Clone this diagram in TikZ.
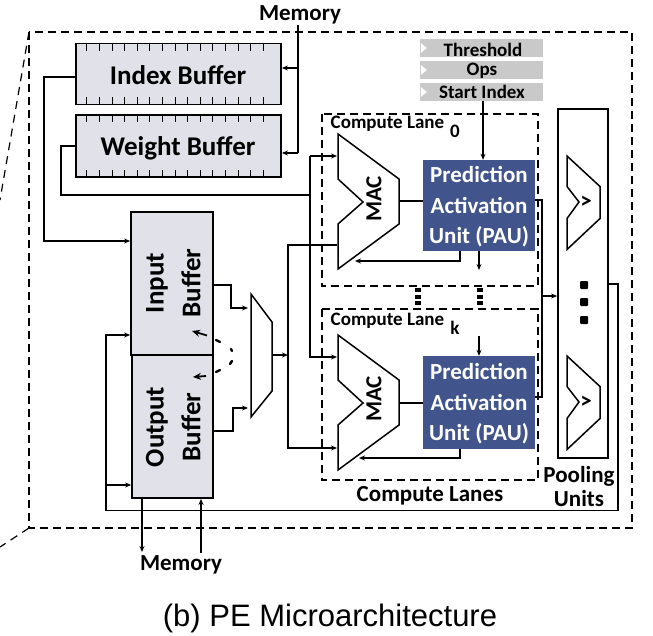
\documentclass[tikz,border=0pt]{standalone}
\usepackage{fontspec}
\setmainfont{Carlito}
\newfontfamily\capfont{Liberation Sans}
\usetikzlibrary{arrows.meta,calc}
\definecolor{bufgray}{HTML}{E0E1E9}
\definecolor{regray}{HTML}{C9C9C9}
\definecolor{paublue}{HTML}{41558C}
\tikzset{
  wire/.style={draw=black,line width=1.5pt},
  wirea/.style={wire,-{Stealth[length=6pt,width=5pt]}},
  frame/.style={draw=black,line width=1.6pt,dash pattern=on 8pt off 5pt},
  slant/.style={draw=black,line width=1.2pt,dash pattern=on 8pt off 6pt},
  bufbox/.style={draw=black,line width=1.8pt,fill=bufgray,inner sep=0pt},
  regbox/.style={fill=regray,inner sep=0pt,minimum width=123pt,minimum height=18pt},
  regtxt/.style={inner sep=0pt,font=\bfseries\fontsize{19}{19}\selectfont},
  paubox/.style={fill=paublue,inner sep=0pt,minimum width=112pt},
  pautxt/.style={text=white,inner sep=0pt,font=\bfseries\fontsize{23}{23}\selectfont},
  lab/.style={inner sep=0pt,font=\bfseries\fontsize{23}{23}\selectfont},
  lanelab/.style={inner sep=0pt,font=\bfseries\fontsize{19}{19}\selectfont},
  buftxt/.style={inner sep=0pt,font=\bfseries\fontsize{27}{27}\selectfont},
  voltxt/.style={inner sep=0pt,rotate=90,font=\bfseries\fontsize{27}{27}\selectfont},
  mactxt/.style={inner sep=0pt,rotate=90,font=\bfseries\fontsize{23}{23}\selectfont},
  unit/.style={draw=black,line width=1.5pt,fill=white,line join=miter},
  dot/.style={fill=black,inner sep=0pt,minimum size=8pt,rounded corners=1pt},
  tdot/.style={fill=black,inner sep=0pt,minimum width=6pt,minimum height=4.5pt},
  swapdash/.style={line width=2.4pt,line cap=round},
}
\begin{document}
\begin{tikzpicture}[x=1pt,y=-1pt]
\useasboundingbox (0,0) rectangle (653,635);
% frames
\coordinate (pe) at (29,32);
\coordinate (pb) at (29,528);
\draw[frame] (pe) rectangle (632,528);
\coordinate (ztop) at (0,200);
\coordinate (zbot) at (0,547);
\draw[slant] (pe) -- (ztop);
\draw[slant] (pb) -- (zbot);
\node[draw=none,inner sep=0pt,minimum width=216pt,minimum height=172pt] (lane0) at (430,200) {};
\node[draw=none,inner sep=0pt,minimum width=216pt,minimum height=171pt] (lanek) at (430,394.5) {};
\draw[frame] (lane0.north west) rectangle (lane0.south east);
\draw[frame] (lanek.north west) rectangle (lanek.south east);
% index / weight buffers
\node[bufbox,minimum width=205pt,minimum height=61pt] (idx) at (178.5,74) {};
\node[bufbox,minimum width=205pt,minimum height=62pt] (wgt) at (178.5,146) {};
\foreach \b in {idx,wgt}{
  \foreach \i in {0,...,14}{
    \draw[line width=1pt] ($(\b.north west)+(11.7+\i*12.6,0)$) -- ++(0,8);
    \draw[line width=1pt] ($(\b.south west)+(11.7+\i*12.6,0)$) -- ++(0,-8);
  }
}
\node[buftxt] at (178,75) {Index Buffer};
\node[buftxt] at (178,148) {Weight Buffer};
% input / output
\node[bufbox,minimum width=82pt,minimum height=143pt] (inb) at (172,283.5) {};
\node[bufbox,minimum width=81pt,minimum height=143pt] (outb) at (172.5,426.5) {};
\node[voltxt] at (157,283) {Input};
\node[voltxt] at (191,283) {Buffer};
\node[voltxt] at (157,427) {Output};
\node[voltxt] at (191,427) {Buffer};
% mux
\draw[unit] (251,294) -- (272,322) -- (272,391) -- (251,417) -- cycle;
\coordinate (muxin) at (248,308);
\coordinate (muxin2) at (248,408);
\coordinate (muxout) at (272,355);
% macs
\foreach \n/\dy in {0/0,1/201}{
  \draw[unit] (338,134+\dy) -- (399,179+\dy) -- (399,224+\dy) -- (338,269+\dy) -- (338,224+\dy) -- (363,202+\dy) -- (338,179+\dy) -- cycle;
}
\node[mactxt] (mac0) at (374,199) {MAC};
\node[mactxt] (mack) at (374,399) {MAC};
% registers
\node[regbox] (thr) at (481.5,48) {};
\node[regbox] (ops) at (481.5,70) {};
\node[regbox] (sti) at (481.5,92) {};
\node[regtxt] at (483,49.5) {Threshold};
\node[regtxt] at (482,70.5) {Ops};
\node[regtxt] at (482,92) {Start Index};
\foreach \r in {thr,ops,sti}{
  \fill[white] ($(\r.west)+(1,-5)$) -- ($(\r.west)+(7,0)$) -- ($(\r.west)+(1,5)$) -- cycle;
}
% PAU
\node[paubox,minimum height=91pt] (pau0) at (479,205.5) {};
\node[paubox,minimum height=93pt] (pauk) at (479,402.5) {};
\node[pautxt] at (479,174.5) {Prediction};
\node[pautxt] at (479,205.5) {Activation};
\node[pautxt] at (479,237) {Unit (PAU)};
\node[pautxt] at (479,371.5) {Prediction};
\node[pautxt] at (479,402.5) {Activation};
\node[pautxt] at (479,434) {Unit (PAU)};
% pooling
\node[draw=black,line width=1.8pt,fill=white,inner sep=0pt,minimum width=50pt,minimum height=349pt] (pool) at (583,283.5) {};
\foreach \dy/\e in {0/0,200/1}{
  \draw[unit] (567,156+\dy) -- (600,186.5+\dy) -- (600,218.5+\dy) -- (567,249.5+\dy) -- (567,218.5+\dy) -- (579,202+\dy) -- (567,186.5+\dy) -- cycle;
  \node[inner sep=0pt,font=\bfseries\fontsize{23}{23}\selectfont] at (586,202+\dy) {>};
}
\node[dot] (d1) at (584,285) {};
\node[dot] (d2) at (584,302) {};
\node[dot] (d3) at (584,320) {};
\node[tdot] at (418,290) {};
\node[tdot] at (418,297) {};
\node[tdot] at (418,303) {};
\node[tdot] at (480,290) {};
\node[tdot] at (480,297) {};
\node[tdot] at (480,303) {};
% text labels
\node[lab] (memt) at (300,15) {Memory};
\node[lab] (memb) at (181,565) {Memory};
\node[lanelab] at (387.5,124) {Compute Lane};
\node[lanelab] at (455,131) {0};
\node[lanelab] at (387.5,320.5) {Compute Lane};
\node[lanelab] at (455,328) {k};
\node[lab] at (430,496) {Compute Lanes};
\node[lab] (poolt) at (579,476) {Pooling};
\node[lab] at (579,499) {Units};
\node[inner sep=0pt,font=\capfont\fontsize{31}{31}\selectfont] at (330,618) {(b) PE Microarchitecture};
% connectors: memory to index/weight
\draw[wire] (298,25) -- (298,153);
\draw[wirea] (298,68) -- (idx.east |- 0,68);
\draw[wirea] (298,153) -- (wgt.east |- 0,153);
% index to input
\draw[wirea] (idx.west |- 0,77) -- (44,77) -- (44,241) -- (inb.west |- 0,241);
% weight to macs
\draw[wire,line width=1.2pt] (wgt.west) -- (61,146) -- (61,195) -- (310,195);
\draw[wirea] (310,156) -- (337,156);
\draw[wirea] (310,156) -- (310,357) -- (337,357);
% mux wiring
\draw[wirea] (inb.east |- 0,285) -- (231,285) -- (231,308) -- (muxin);
\draw[wirea] (outb.east |- 0,431) -- (233,431) -- (233,408) -- (muxin2);
\draw[wirea] (muxout) -- (288,355);
\draw[wirea] (337,245) -- (288,245) -- (288,448) -- (337,448);
% swap arrows
\draw[swapdash] (216,340) -- (220,342);
\draw[swapdash] (231,349) -- (232,351);
\draw[swapdash] (232,361) -- (230,364);
\draw[swapdash] (220,370) -- (216,372);
\draw[line width=1.8pt,-{Stealth[length=8pt,width=7pt]}] (207,335.5) -- (192,331);
\draw[line width=1.8pt,-{Stealth[length=8pt,width=7pt]}] (206,376) -- (193,377);
% feedback
\draw[wirea] (pool.east |- 0,284) -- (618,284) -- (618,510.5) -- (106,510.5) -- (106,335) -- (inb.west |- 0,335);
\draw[wirea] (106,485) -- (outb.west |- 0,485);
% memory bottom
\draw[wirea] (outb.south -| 142,0) -- (142,552);
\draw[wirea] (201,553) -- (outb.south -| 201,0);
% lane connectors
\draw[wirea] (sti.south -| 483,0) -- (pau0.north -| 483,0);
\draw[wire] (399,201) -- (pau0.west |- 0,201);
\draw[wire] (399,403) -- (pauk.west |- 0,403);
\draw[wirea] (pau0.south -| 460,0) -- (460,261) -- (355,261);
\draw[wirea] (pauk.south -| 460,0) -- (460,458) -- (359,458);
\draw[wirea] (pau0.south -| 479,0) -- (479,270);
\draw[wirea] (479,336) -- (pauk.north -| 479,0);
\draw[wire] (pau0.east |- 0,200) -- (542,200) -- (542,397) -- (pauk.east |- 0,397);
\draw[wirea] (542,296) -- (pool.west |- 0,296);
\end{tikzpicture}
\end{document}
